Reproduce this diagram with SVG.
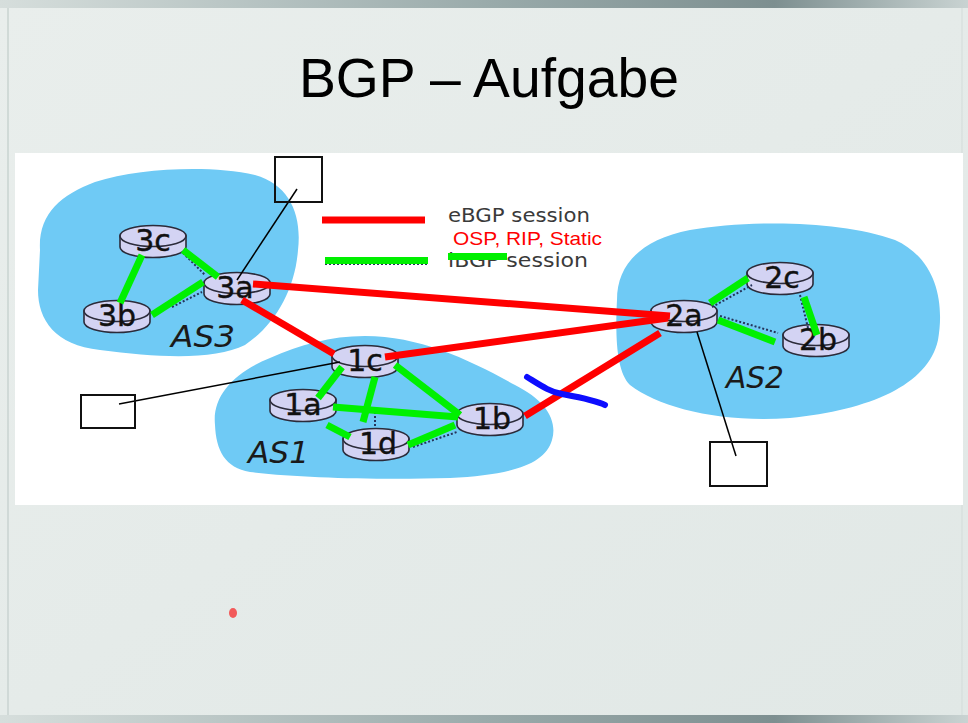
<svg xmlns="http://www.w3.org/2000/svg" xmlns:xlink="http://www.w3.org/1999/xlink" width="968" height="723" viewBox="0 0 968 723">
  <style>
    .as { fill: #6fcaf5; }
    .rs { fill: #d3d3f3; stroke: #2b2b3a; stroke-width: 1.6; }
    .rl { font-family: "DejaVu Sans", sans-serif; font-size: 30px; fill: #111; stroke: #111; stroke-width: 0.4; text-anchor: middle; }
    .asl { font-family: "DejaVu Sans", sans-serif; font-size: 30px; font-style: oblique; fill: #1a1a1a; }
    .ib { stroke: #00f000; stroke-width: 7; fill: none; }
    .eb { stroke: #ff0000; stroke-width: 7; fill: none; }
    .og { stroke: #25335a; stroke-width: 2; stroke-dasharray: 2 2; fill: none; }
    .ln { stroke: #000; stroke-width: 1.5; fill: none; }
    .box { stroke: #111; stroke-width: 2; fill: none; }
    .lg { font-family: "DejaVu Sans", sans-serif; font-size: 20px; fill: #3a3a3a; }
  </style>
  <defs>
    <linearGradient id="bg" x1="0" y1="0" x2="1" y2="1">
      <stop offset="0" stop-color="#e9eeec"/>
      <stop offset="1" stop-color="#e1e8e6"/>
    </linearGradient>
    <linearGradient id="bar" x1="0" y1="0" x2="1" y2="0">
      <stop offset="0" stop-color="#d6dedc"/>
      <stop offset="0.5" stop-color="#9aabab"/>
      <stop offset="0.8" stop-color="#7d8f90"/>
      <stop offset="1" stop-color="#c9d3d2"/>
    </linearGradient>
    <g id="rt">
      <path d="M-33,-5 V6 A33,10.5 0 0 0 33,6 V-5 Z" class="rs"/>
      <ellipse cx="0" cy="-5" rx="33" ry="10.5" class="rs"/>
    </g>
  </defs>

  <!-- slide background -->
  <rect x="0" y="0" width="968" height="723" fill="url(#bg)"/>
  <rect x="0" y="0" width="968" height="8" fill="url(#bar)"/>
  <rect x="0" y="715" width="968" height="8" fill="url(#bar)"/>
  <line x1="8" y1="8" x2="8" y2="715" stroke="#c9d3d1" stroke-width="1.5"/>
  <line x1="962" y1="8" x2="962" y2="715" stroke="#d3dbd9" stroke-width="1"/>

  <text x="489" y="97" font-family="Liberation Sans, Arial, sans-serif" font-size="56" text-anchor="middle" textLength="380" lengthAdjust="spacingAndGlyphs" fill="#000">BGP – Aufgabe</text>

  <!-- picture panel -->
  <rect x="15" y="153" width="948" height="352" fill="#ffffff"/>

  <!-- autonomous systems -->
  <g id="as3">
    <path class="as" d="M40,250 C38,215 60,195 95,182 C140,168 210,165 255,175 C290,185 302,215 298,250 C295,290 275,325 245,345 C215,360 160,358 100,350 C55,345 38,320 38,290 Z"/>
    <text class="asl" x="171" y="347" textLength="64" lengthAdjust="spacingAndGlyphs">AS3</text>
  </g>
  <g id="as1">
    <path class="as" d="M215,425 C212,395 235,372 270,358 C300,345 330,336 365,336 C420,336 470,360 515,385 C545,400 558,420 552,440 C545,465 510,475 450,478 C380,480 300,478 250,472 C225,468 216,450 215,425 Z"/>
    <text class="asl" x="248" y="463" textLength="61" lengthAdjust="spacingAndGlyphs">AS1</text>
  </g>
  <g id="as2">
    <path class="as" d="M617,300 C617,265 640,240 690,230 C750,220 840,220 895,240 C935,258 945,300 938,340 C928,385 870,410 790,418 C720,423 660,408 630,385 C617,372 615,340 617,300 Z"/>
    <text class="asl" x="726" y="388" textLength="58" lengthAdjust="spacingAndGlyphs">AS2</text>
  </g>

  <!-- routers -->
  <g id="r3c"><use xlink:href="#rt" x="153" y="241"/><text class="rl" x="153" y="251">3c</text></g>
  <g id="r3b"><use xlink:href="#rt" x="117" y="316"/><text class="rl" x="117" y="326">3b</text></g>
  <g id="r3a"><use xlink:href="#rt" x="237" y="288"/><text class="rl" x="235" y="298">3a</text></g>
  <g id="r1c"><use xlink:href="#rt" x="365" y="361"/><text class="rl" x="365" y="371">1c</text></g>
  <g id="r1a"><use xlink:href="#rt" x="303" y="405"/><text class="rl" x="303" y="415">1a</text></g>
  <g id="r1d"><use xlink:href="#rt" x="376" y="444"/><text class="rl" x="378" y="454">1d</text></g>
  <g id="r1b"><use xlink:href="#rt" x="490" y="419"/><text class="rl" x="492" y="429">1b</text></g>
  <g id="r2a"><use xlink:href="#rt" x="684" y="316"/><text class="rl" x="684" y="326">2a</text></g>
  <g id="r2c"><use xlink:href="#rt" x="780" y="278"/><text class="rl" x="782" y="288">2c</text></g>
  <g id="r2b"><use xlink:href="#rt" x="816" y="340"/><text class="rl" x="818" y="350">2b</text></g>

  <!-- legend -->
  <g id="legend">
    <line class="eb" x1="322" y1="220" x2="425" y2="220"/>
    <line class="og" x1="325" y1="264" x2="427" y2="264"/>
    <line class="ib" x1="325" y1="260.5" x2="428" y2="260.5"/>
    <text class="lg" x="448" y="222" textLength="142" lengthAdjust="spacingAndGlyphs">eBGP session</text>
    <text class="lg" x="448" y="267" textLength="140" lengthAdjust="spacingAndGlyphs">iBGP session</text>
    <line class="ib" x1="448" y1="256.5" x2="507" y2="256.5" stroke-width="9"/>
    <text x="453" y="245" font-family="Liberation Sans, Arial, sans-serif" font-size="19" fill="#ff0000" textLength="149" lengthAdjust="spacingAndGlyphs">OSP, RIP, Static</text>
  </g>

  <!-- connectors -->
  <g id="connectors">
    <!-- underlying physical links -->
    <line class="og" x1="183" y1="253" x2="205" y2="275"/>
    <line class="og" x1="172" y1="307" x2="202" y2="292"/>
    <line class="og" x1="375" y1="408" x2="375" y2="427"/>
    <line class="og" x1="413" y1="447" x2="457" y2="432"/>
    <line class="og" x1="712" y1="307" x2="752" y2="285"/>
    <line class="og" x1="800" y1="295" x2="808" y2="328"/>
    <line class="og" x1="720" y1="316" x2="778" y2="333"/>

    <!-- iBGP sessions -->
    <line class="ib" x1="142" y1="255" x2="120" y2="303"/>
    <line class="ib" x1="183" y1="250" x2="218" y2="277"/>
    <line class="ib" x1="152" y1="315" x2="203" y2="282"/>
    <line class="ib" x1="342" y1="367" x2="318" y2="398"/>
    <line class="ib" x1="375" y1="377" x2="363" y2="422"/>
    <line class="ib" x1="395" y1="365" x2="460" y2="415"/>
    <line class="ib" x1="333" y1="407" x2="458" y2="417"/>
    <line class="ib" x1="327" y1="425" x2="350" y2="437"/>
    <line class="ib" x1="408" y1="445" x2="455" y2="425"/>
    <line class="ib" x1="710" y1="303" x2="748" y2="278"/>
    <line class="ib" x1="804" y1="297" x2="817" y2="335"/>
    <line class="ib" x1="718" y1="320" x2="775" y2="342"/>

    <!-- eBGP sessions -->
    <line class="eb" x1="253" y1="284" x2="670" y2="316"/>
    <line class="eb" x1="242" y1="300" x2="334" y2="354"/>
    <line class="eb" x1="385" y1="357" x2="668" y2="318"/>
    <line class="eb" x1="525" y1="416" x2="660" y2="333"/>

    <!-- strike mark -->
    <path d="M527,377 C540,385 550,392 562,394 C578,397 595,400 605,405" stroke="#0d0dff" stroke-width="6" stroke-linecap="round" fill="none"/>

    <!-- answer boxes with pointers -->
    <line class="ln" x1="297" y1="189" x2="237" y2="280"/>
    <line class="ln" x1="119" y1="404" x2="340" y2="362"/>
    <line class="ln" x1="736" y1="456" x2="697" y2="332"/>
  </g>

  <g id="box-3a"><rect class="box" x="275" y="157" width="47" height="45"/></g>
  <g id="box-1c"><rect class="box" x="81" y="395" width="54" height="33"/></g>
  <g id="box-2a"><rect class="box" x="710" y="442" width="57" height="44"/></g>

  <ellipse cx="233" cy="613" rx="4" ry="5" fill="#f25a5a"/>
</svg>
